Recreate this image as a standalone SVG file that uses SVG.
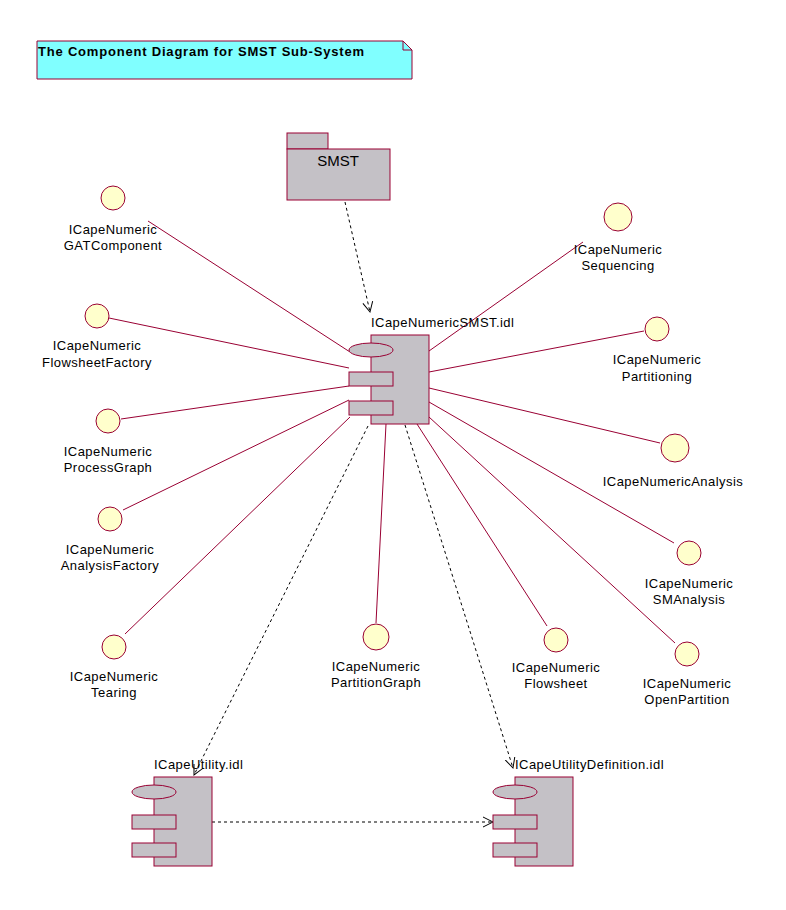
<svg xmlns="http://www.w3.org/2000/svg" width="786" height="910" viewBox="0 0 786 910">
<style>
text{font-family:"Liberation Sans",Arial,sans-serif;font-size:13px;fill:#000;letter-spacing:0.45px}
.t{text-anchor:middle}
.iface{fill:#FFFFCC;stroke:#990033;stroke-width:1}
.comp{fill:#C4C1C6;stroke:#990033;stroke-width:1}
.real{stroke:#990033;stroke-width:1;fill:none}
.dep{stroke:#000;stroke-width:1;fill:none;stroke-dasharray:3,3}
</style>
<defs>
<marker id="open" markerWidth="12" markerHeight="12" refX="10" refY="5" orient="auto" markerUnits="userSpaceOnUse" viewBox="0 0 12 10">
<path d="M0,0 L10,5 L0,10" fill="none" stroke="#000" stroke-width="1"/>
</marker>
</defs>
<rect width="786" height="910" fill="#fff"/>

<g id="note">
<path d="M37,41 H403 L412,50 V79 H37 Z" fill="#80FFFF" stroke="#990033"/>
<path d="M403,41 V50 H412" fill="none" stroke="#990033"/>
<text x="38" y="56" style="font-weight:bold;font-size:13px;letter-spacing:0.8px">The Component Diagram for SMST Sub-System</text>
</g>

<g id="connectors">
<line class="real" x1="148" y1="221" x2="350" y2="352"/>
<line class="real" x1="109" y1="318" x2="349" y2="368"/>
<line class="real" x1="121" y1="419" x2="349" y2="386"/>
<line class="real" x1="123" y1="510" x2="349" y2="400"/>
<line class="real" x1="125" y1="634" x2="350" y2="417"/>
<line class="real" x1="376" y1="623" x2="386" y2="424"/>
<line class="real" x1="547" y1="626" x2="417" y2="424"/>
<line class="real" x1="675" y1="643" x2="429" y2="417"/>
<line class="real" x1="674" y1="543" x2="429" y2="402"/>
<line class="real" x1="660" y1="443" x2="429" y2="388"/>
<line class="real" x1="644" y1="331" x2="429" y2="372"/>
<line class="real" x1="583" y1="242" x2="429" y2="351"/>
<line class="dep" x1="345" y1="202" x2="370" y2="312" marker-end="url(#open)"/>
<line class="dep" x1="368" y1="426" x2="194" y2="775" marker-end="url(#open)"/>
<line class="dep" x1="405" y1="425" x2="513" y2="768" marker-end="url(#open)"/>
<line class="dep" x1="212" y1="822" x2="493" y2="822" marker-end="url(#open)"/>
</g>

<g id="SMST">
<rect class="comp" x="287" y="133" width="41" height="16"/>
<rect class="comp" x="287" y="149" width="103" height="51"/>
<text class="t" x="338" y="166" style="font-size:15px;letter-spacing:0">SMST</text>
</g>

<g id="ICapeNumericSMST.idl">
<rect class="comp" x="371" y="335" width="58" height="89"/>
<ellipse class="comp" cx="371" cy="350" rx="22" ry="7"/>
<rect class="comp" x="349" y="372" width="44" height="14"/>
<rect class="comp" x="349" y="401" width="44" height="14"/>
<text x="371" y="327">ICapeNumericSMST.idl</text>
</g>

<g id="ICapeUtility.idl">
<rect class="comp" x="154" y="777" width="58" height="89"/>
<ellipse class="comp" cx="154" cy="792" rx="22" ry="7"/>
<rect class="comp" x="132" y="815" width="44" height="14"/>
<rect class="comp" x="132" y="843" width="44" height="14"/>
<text x="154" y="769">ICapeUtility.idl</text>
</g>

<g id="ICapeUtilityDefinition.idl">
<rect class="comp" x="515" y="777" width="58" height="89"/>
<ellipse class="comp" cx="515" cy="792" rx="22" ry="7"/>
<rect class="comp" x="493" y="815" width="44" height="14"/>
<rect class="comp" x="493" y="843" width="44" height="14"/>
<text x="515" y="769">ICapeUtilityDefinition.idl</text>
</g>

<g id="GATComponent">
<circle class="iface" cx="113" cy="198" r="12"/>
<text class="t" x="113" y="234">ICapeNumeric</text>
<text class="t" x="113" y="250">GATComponent</text>
</g>
<g id="FlowsheetFactory">
<circle class="iface" cx="97" cy="316" r="12"/>
<text class="t" x="97" y="350">ICapeNumeric</text>
<text class="t" x="97" y="367">FlowsheetFactory</text>
</g>
<g id="ProcessGraph">
<circle class="iface" cx="108" cy="421" r="12"/>
<text class="t" x="108" y="456">ICapeNumeric</text>
<text class="t" x="108" y="472">ProcessGraph</text>
</g>
<g id="AnalysisFactory">
<circle class="iface" cx="110" cy="519" r="12"/>
<text class="t" x="110" y="554">ICapeNumeric</text>
<text class="t" x="110" y="570">AnalysisFactory</text>
</g>
<g id="Tearing">
<circle class="iface" cx="114" cy="647" r="12"/>
<text class="t" x="114" y="681">ICapeNumeric</text>
<text class="t" x="114" y="697">Tearing</text>
</g>
<g id="PartitionGraph">
<circle class="iface" cx="376" cy="637" r="13"/>
<text class="t" x="376" y="671">ICapeNumeric</text>
<text class="t" x="376" y="687">PartitionGraph</text>
</g>
<g id="Flowsheet">
<circle class="iface" cx="556" cy="640" r="12"/>
<text class="t" x="556" y="672">ICapeNumeric</text>
<text class="t" x="556" y="688">Flowsheet</text>
</g>
<g id="OpenPartition">
<circle class="iface" cx="687" cy="654" r="12"/>
<text class="t" x="687" y="688">ICapeNumeric</text>
<text class="t" x="687" y="704">OpenPartition</text>
</g>
<g id="SMAnalysis">
<circle class="iface" cx="689" cy="553" r="12"/>
<text class="t" x="689" y="588">ICapeNumeric</text>
<text class="t" x="689" y="604">SMAnalysis</text>
</g>
<g id="Analysis">
<circle class="iface" cx="675" cy="448" r="14"/>
<text class="t" x="673" y="486">ICapeNumericAnalysis</text>
</g>
<g id="Partitioning">
<circle class="iface" cx="657" cy="329" r="12"/>
<text class="t" x="657" y="364">ICapeNumeric</text>
<text class="t" x="657" y="381">Partitioning</text>
</g>
<g id="Sequencing">
<circle class="iface" cx="618" cy="217" r="14"/>
<text class="t" x="618" y="254">ICapeNumeric</text>
<text class="t" x="618" y="270">Sequencing</text>
</g>
</svg>
